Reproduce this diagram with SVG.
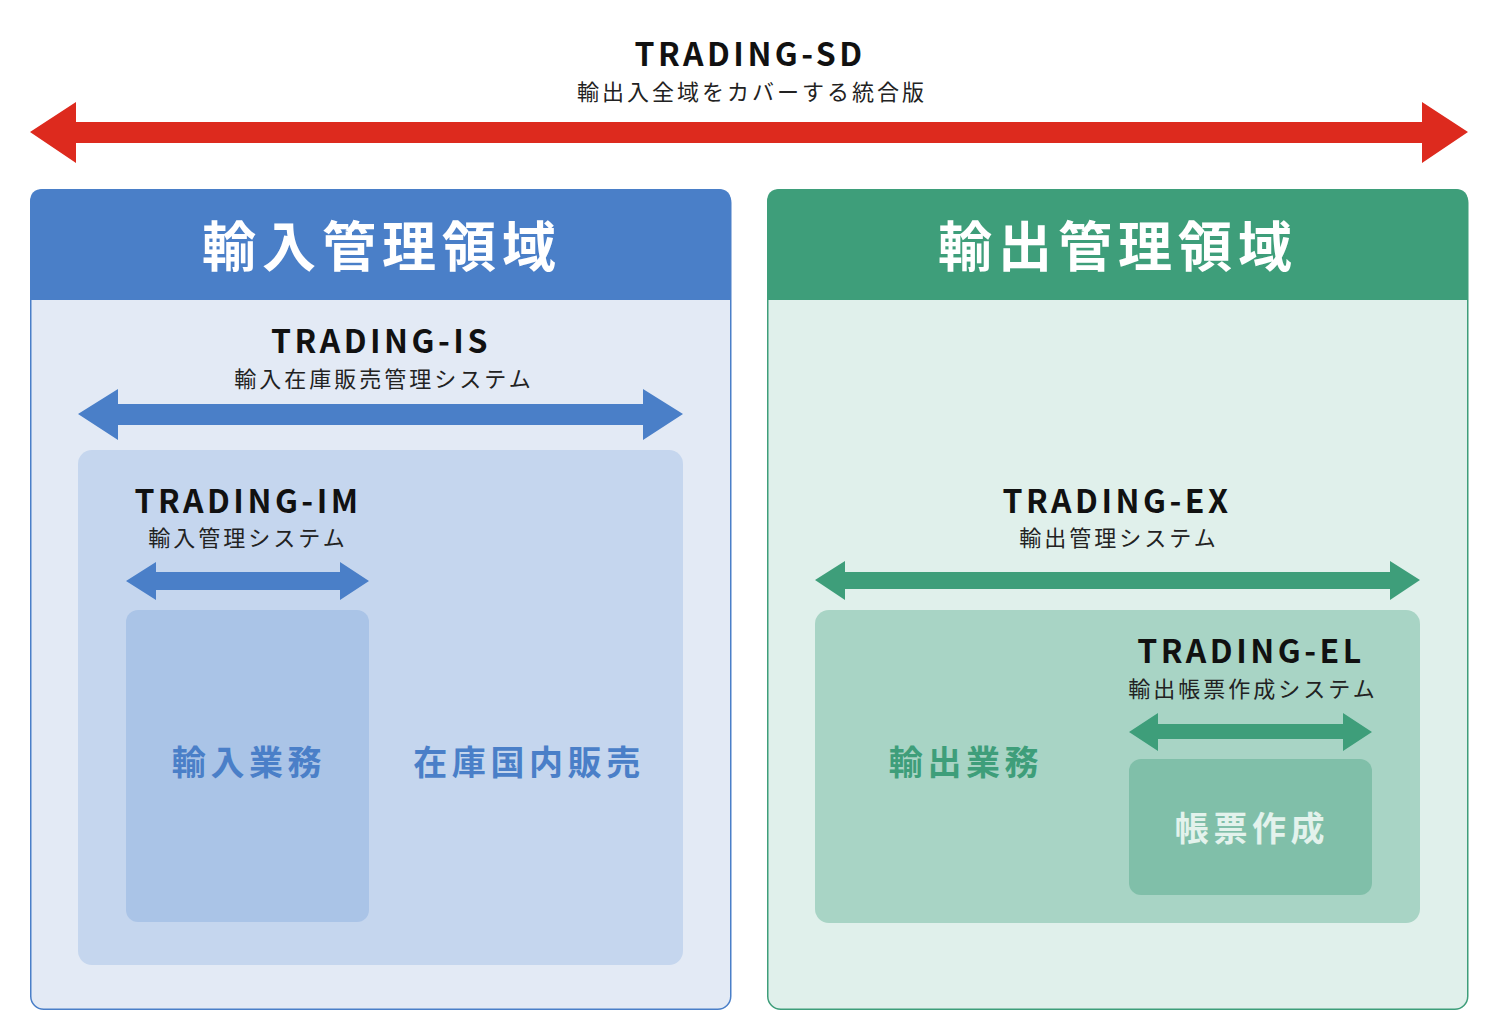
<svg xmlns="http://www.w3.org/2000/svg" width="1501" height="1035" viewBox="0 0 1501 1035">
<style>
text{font-family:"Noto Sans CJK JP","Noto Sans",sans-serif;text-anchor:middle}
.t{font-size:32px;font-weight:700;fill:#111;letter-spacing:3.5px}
.s{font-size:22px;font-weight:400;fill:#222;letter-spacing:3px}
.h{font-size:54px;font-weight:700;fill:#fff;letter-spacing:6px}
.b{font-size:34px;font-weight:700;letter-spacing:4.6px}
.red{fill:#DD2A1E}.blue{fill:#4A7FC8}.green{fill:#3E9E7A}
</style>
<rect width="1501" height="1035" fill="#fff"/>
<g id="import-area">
<rect x="30.75" y="189.75" width="700" height="819.5" rx="13" fill="#E3EAF5" stroke="#4A7FC8" stroke-width="1.5"/>
<path d="M30,300V202Q30,189 43,189H718Q731,189 731,202V300Z" fill="#4A7FC8"/>
<text class="h" x="382" y="267">輸入管理領域</text>
</g>
<g id="export-area">
<rect x="767.75" y="189.75" width="700" height="819.5" rx="13" fill="#E0F0EB" stroke="#3E9E7A" stroke-width="1.5"/>
<path d="M767,300V202Q767,189 780,189H1455Q1468,189 1468,202V300Z" fill="#3E9E7A"/>
<text class="h" x="1118" y="267">輸出管理領域</text>
</g>
<g id="trading-sd">
<text class="t" x="750" y="66">TRADING-SD</text>
<text class="s" x="752" y="100">輸出入全域をカバーする統合版</text>
</g>
<g id="trading-is">
<text class="t" x="381" y="353">TRADING-IS</text>
<text class="s" x="384" y="387">輸入在庫販売管理システム</text>
<rect x="78" y="450" width="605" height="515" rx="14" fill="#C5D6EE"/>
<text class="b blue" x="529" y="775">在庫国内販売</text>
</g>
<g id="trading-im">
<text class="t" x="248" y="513">TRADING-IM</text>
<text class="s" x="248" y="546">輸入管理システム</text>
<rect x="126" y="610" width="243" height="312" rx="12" fill="#AAC4E7"/>
<text class="b blue" x="249" y="775">輸入業務</text>
</g>
<g id="trading-ex">
<text class="t" x="1117" y="513">TRADING-EX</text>
<text class="s" x="1119" y="546">輸出管理システム</text>
<rect x="815" y="610" width="605" height="313" rx="14" fill="#A8D4C5"/>
<text class="b green" x="966" y="775">輸出業務</text>
</g>
<g id="trading-el">
<text class="t" x="1251" y="663">TRADING-EL</text>
<text class="s" x="1253" y="697">輸出帳票作成システム</text>
<rect x="1129" y="759" width="243" height="136" rx="12" fill="#80BFA9"/>
<text class="b" x="1252" y="841" fill="#E3F2EC">帳票作成</text>
</g>
<g id="connectors">
<polygon class="red" points="30,132 76,102 76,122 1422,122 1422,102 1468,132 1422,163 1422,143 76,143 76,163"/>
<polygon class="blue" points="78,414 118,389 118,404 643,404 643,389 683,414 643,440 643,425 118,425 118,440"/>
<polygon class="blue" points="126,581 156,562 156,572 340,572 340,562 369,581 340,600 340,590 156,590 156,600"/>
<polygon class="green" points="815,580 845,561 845,572 1390,572 1390,561 1420,580 1390,600 1390,589 845,589 845,600"/>
<polygon class="green" points="1129,732 1158,713 1158,724 1343,724 1343,713 1372,732 1343,751 1343,739 1158,739 1158,751"/>
</g>
</svg>
